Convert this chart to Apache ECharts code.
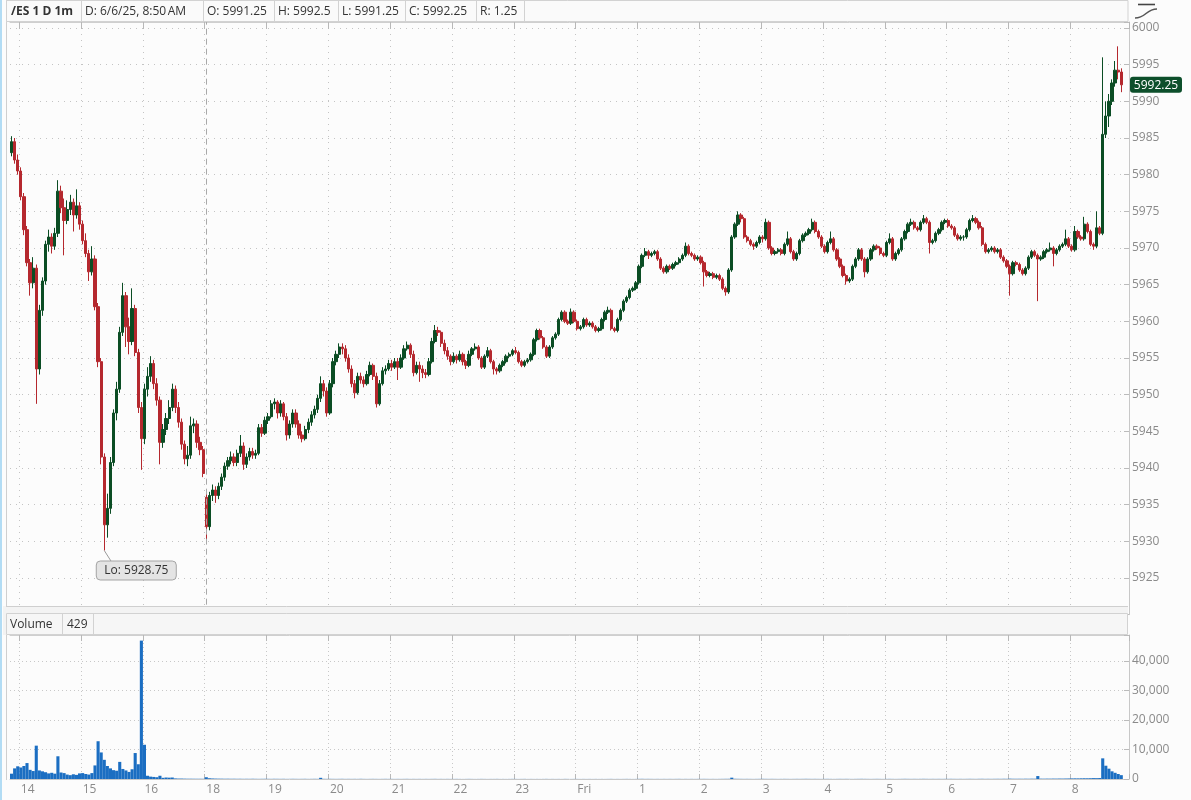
<!DOCTYPE html>
<html><head><meta charset="utf-8">
<script src="https://cdn.jsdelivr.net/npm/echarts@6/dist/echarts.min.js"></script>
<style>html,body{margin:0;padding:0;background:#fcfcfc}#c{width:1191px;height:800px}</style>
</head><body><div id="c"></div><script>
// ---- sessions (3-minute bars): pre-break and overnight session ----
const sessionA = ['13:51', '16:57'];
const sessionB = ['18:00', '08:48'];
const trailingSlots = ['08:51', '08:54'];

const headerCells = ['/ES 1 D 1m', 'D: 6/6/25, 8:50\u202FAM', 'O: 5991.25', 'H: 5992.5', 'L: 5991.25', 'C: 5992.25', 'R: 1.25'];
const volumeHeader = ['Volume', '429'];

const opens = [
5983,5984.5,5982,5980.5,5977,5972.5,5968,5965.25,5967.25,5953.5,
5961.5,5965.5,5970.5,5971.5,5970.25,5972,5977.75,5975.5,5973.75,5975.25,
5976.25,5974.5,5975.75,5973.25,5971,5969.25,5966.75,5968.5,5962,5954.5,
5941.5,5932.25,5934.5,5940.75,5947.5,5950.75,5958.5,5963.5,5959.25,5957.25,
5961.75,5955.75,5948.25,5944,5950.75,5952.5,5954.25,5951.5,5949.25,5943.5,
5945.25,5946.75,5948.25,5950.75,5948.25,5946.25,5943.25,5941.25,5941.75,5945.75,
5946,5943.5,5942.5,
5936,5932,5936.25,5937,5936.25,5937.5,5938.75,5940.25,5941,5941.5,
5940.75,5942,5943,5940.5,5941.5,5942.25,5941.75,5942,5945.5,5944.75,
5946.5,5947,5948.75,5949,5947.5,5948.75,5947,5944.5,5946,5947.5,
5946,5944.5,5944,5945.25,5946.25,5947.25,5948,5949.5,5951.5,5950.5,
5947.5,5951.5,5954.5,5955.5,5956.5,5956.25,5955,5953.5,5951.5,5950.25,
5952.5,5952,5951.5,5952.75,5954,5952.5,5948.75,5951.5,5953.25,5953.5,
5954.25,5953.75,5954.5,5953.75,5955,5956.25,5956.75,5955.5,5953,5954,
5953.5,5953,5952.75,5954.5,5957.25,5958.75,5958.5,5957,5956,5955.25,
5954.5,5955.25,5954.75,5955.5,5954.5,5954,5955.5,5956.25,5956.5,5955,
5953.75,5955.25,5956,5954.5,5953.5,5953.25,5954,5954.5,5955.25,5955.5,
5956,5955.75,5954.5,5954,5954.5,5954.75,5955.5,5957.5,5958.75,5957.75,
5956.5,5955.25,5956.5,5957.75,5958.25,5960.25,5961.25,5960,5959.75,5961.25,
5960,5959,5959.25,5960.25,5959.5,5959.75,5959.25,5958.75,5959,5960.25,
5961.25,5961.5,5959,5958.75,5960.25,5961.5,5962.75,5963.25,5964.25,5964.5,
5965.25,5967.5,5969,5969.5,5969,5969.25,5969.5,5968.5,5967.25,5966.75,
5967.5,5967.25,5967.75,5968,5968.5,5969,5970.25,5969.25,5969,5968.5,
5968.75,5968,5966.75,5966.25,5966.5,5966,5966.25,5965.75,5964.5,5964,
5967,5971.5,5973.25,5974.5,5974,5971.5,5971,5970.5,5970.25,5970.75,
5971.5,5971.25,5973.5,5970,5969.25,5969.5,5969.75,5969.25,5970.5,5971.25,
5969.5,5968.5,5969.25,5971,5971.75,5972,5972.5,5973.5,5972.25,5971.5,
5970.25,5969.5,5970.75,5971.25,5969.75,5968.5,5967.5,5966.25,5965.5,5965.75,
5967.5,5968.5,5969.75,5968.5,5966.75,5968.5,5969.75,5970.25,5970,5969.25,
5969,5970.75,5971.25,5968.5,5969.25,5969.75,5971.25,5972.25,5973.25,5973.5,
5972.75,5972.5,5973.5,5974,5973.5,5970.75,5971,5972,5972.5,5973.5,
5973.75,5973,5972.75,5971.75,5971.25,5971.5,5971.5,5972.5,5973.75,5974,
5973.5,5972.75,5970.5,5969.5,5969.75,5970,5969.5,5969.75,5968.75,5968.25,
5967.5,5966.5,5968,5967.75,5967,5966.5,5967.25,5968.75,5969.5,5969,
5968.5,5968.75,5969.5,5969.75,5970,5969.25,5969.75,5970.25,5970.5,5971.25,
5970.25,5969.75,5972.25,5971.5,5971.25,5973.25,5972.25,5970.5,5970.25,5972.75,
5972,5985.5,5988,5990,5992.5,5994.25,5994];

const highs = [
5985.25,5985,5982.75,5981,5977.5,5973,5968.5,5968.75,5967.75,5962.25,
5966,5971,5972.5,5972,5972.75,5979.25,5978.5,5976.75,5976.5,5977.25,
5976.75,5978,5976.25,5973.75,5972,5969.75,5970.25,5969,5962.5,5955,
5942,5936.5,5941.5,5948,5951.75,5959.25,5965.25,5964,5960.5,5964.5,
5962.25,5956.25,5949,5951.5,5953.75,5955.25,5954.75,5952.25,5949.75,5946,
5947.5,5949.25,5951.5,5951.25,5949,5946.75,5943.75,5943,5947,5946.75,
5946.5,5944.25,5943,
5936.5,5936.75,5937.75,5937.5,5938,5939.25,5940.75,5941.5,5942.25,5942,
5942.5,5944.5,5943.5,5942,5942.75,5942.75,5942.5,5946,5946,5947,
5947.5,5949.25,5949.5,5949.25,5949.25,5949,5947.5,5946.5,5948,5948,
5946.5,5945,5945.75,5946.75,5947.75,5948.5,5950,5952.5,5952,5951,
5952,5955,5956,5957,5957,5956.75,5955.5,5954,5952,5953,
5953,5952.5,5953.25,5954.5,5954.25,5953,5952,5953.75,5954,5954.75,
5954.75,5955,5955,5955.5,5956.75,5957.25,5957,5956,5954.5,5954.5,
5954,5953.5,5955,5957.75,5959.5,5959.25,5958.75,5957.5,5956.5,5955.5,
5955.75,5955.5,5956,5955.75,5954.75,5956,5956.5,5957,5956.75,5955.25,
5955.5,5956.5,5956.25,5954.75,5953.75,5954.25,5954.75,5955.5,5955.75,5956.25,
5956.5,5956,5954.75,5954.75,5955,5955.75,5957.75,5959,5959,5958,
5956.75,5956.75,5958,5958.5,5960.5,5961.5,5961.5,5960.25,5961.75,5961.5,
5960.25,5959.5,5960.5,5960.5,5960,5960,5959.5,5959.25,5960.5,5961.5,
5962,5961.75,5959.25,5960.5,5961.75,5963,5963.5,5964.5,5964.75,5965.5,
5967.75,5969.25,5970,5969.75,5969.5,5969.75,5969.75,5968.75,5967.5,5967.75,
5967.75,5968,5968.25,5968.75,5969.25,5970.75,5970.5,5969.5,5969.25,5969,
5969,5968.25,5967,5966.75,5966.75,5966.5,5966.5,5966,5964.75,5967.25,
5971.75,5973.5,5975,5974.75,5974.25,5971.75,5971.25,5970.75,5971,5971.75,
5971.75,5974,5973.75,5970.25,5969.75,5970,5970,5970.75,5972.25,5971.5,
5969.75,5969.5,5971.25,5972,5972.25,5972.75,5974,5973.75,5972.5,5971.75,
5970.5,5971,5972.25,5971.5,5970,5968.75,5967.75,5966.5,5966,5967.75,
5968.75,5970,5970,5968.75,5968.75,5970,5970.5,5970.5,5970.25,5969.5,
5971,5972,5971.5,5969.5,5970,5971.5,5972.5,5973.5,5974,5973.75,
5973,5973.75,5974.5,5974.25,5973.75,5971.25,5972.25,5972.75,5973.75,5974,
5974,5973.25,5973,5972,5971.75,5971.75,5972.75,5974,5974.5,5974.25,
5973.75,5973,5970.75,5970,5970.25,5970.25,5970,5970,5969,5968.5,
5967.75,5968.25,5968.25,5968,5967.25,5967.5,5969,5969.75,5969.75,5969.25,
5969,5969.75,5970,5970.75,5970.25,5970,5970.5,5970.75,5972.5,5971.5,
5970.5,5973,5972.5,5971.75,5974.25,5973.5,5972.5,5970.75,5975,5973,
5996,5990,5991,5993,5995.5,5997.5,5994.5];

const lows = [
5982.5,5981.5,5980,5976.5,5971.75,5967.5,5963.5,5964.5,5948.75,5952.75,
5960.75,5965,5969.5,5969.25,5969.75,5971.5,5974.75,5969,5973.25,5974.5,
5972.25,5974,5972.5,5970.5,5968.75,5965.5,5966.25,5961.5,5953.75,5940.5,
5928.75,5930.5,5933.75,5940.25,5946.5,5950.25,5958,5956.5,5955.5,5956.75,
5955.25,5947.5,5939.75,5943.25,5949.75,5951.75,5950.75,5948.5,5940.5,5942.75,
5944.5,5946,5947.75,5947.5,5945.5,5942.5,5940.5,5940.25,5941.25,5944.75,
5942.75,5941.75,5938.75,
5930,5931.5,5935.5,5935.25,5935.75,5937,5938.25,5939.75,5940.5,5940.25,
5940.25,5941.5,5939.75,5940,5941,5941.25,5941.25,5941.75,5944.25,5944.5,
5946,5946.75,5948,5946.75,5947,5946.5,5943.75,5944,5945.5,5945.5,
5944,5943.5,5943.75,5944.75,5945.75,5946.75,5947.5,5949,5949.75,5947,
5947.25,5951,5954,5955,5955.5,5954.5,5953,5951,5949.5,5950,
5951.5,5951,5951.25,5952.5,5952,5948.25,5948.5,5951.25,5952.75,5953.25,
5953.25,5953.5,5952,5953.5,5954.75,5956,5955,5952.5,5952.75,5951.75,
5952.25,5952.25,5952.5,5954.25,5957,5958,5956.5,5955.5,5954.75,5954,
5954.25,5954.25,5954.5,5954,5953.5,5953.75,5955.25,5956,5954.75,5953.5,
5953.5,5955,5954.25,5952.75,5952.75,5953,5953.75,5954.25,5955,5955.25,
5955.5,5954.25,5953.75,5953.75,5954.25,5954.5,5955.25,5957.25,5957.5,5956.25,
5955,5955,5956.25,5957.5,5958,5960,5959.75,5959.5,5959.5,5959.75,
5958.75,5958.75,5959,5959.25,5959.25,5959,5958.5,5958.5,5958.75,5960,
5961,5958.75,5958.5,5958.5,5960,5961.25,5962.5,5963,5964,5964.25,
5965,5967.25,5968.75,5968.5,5968.75,5969,5968.25,5967,5966.5,5966.5,
5967,5967,5967.5,5967.75,5968.25,5968.75,5969,5968.75,5968.25,5968.25,
5967.75,5964.75,5966,5966,5965.75,5965.75,5965.5,5964.25,5963.5,5963.75,
5966.75,5971.25,5973,5973.5,5971.25,5970.75,5970.25,5969.75,5970,5970.5,
5970.75,5971,5969.75,5969,5969,5969.25,5969,5969,5970.25,5969.25,
5968.25,5968.25,5969,5970.75,5971.5,5971.75,5972.25,5972,5971.25,5970,
5969.25,5969.25,5970.5,5969.5,5968.25,5967.25,5966,5965,5965.25,5965.5,
5967.25,5968.25,5968.25,5966,5966.5,5968.25,5969.5,5969.75,5969,5968.75,
5968.75,5970.5,5968.25,5968.25,5969,5969.5,5971,5972,5973,5972.5,
5972.25,5972.25,5973.25,5973.25,5969.25,5970.5,5970.75,5971.75,5972.25,5973.25,
5972.75,5972.5,5971.5,5971,5971,5971,5971.25,5972.25,5973.5,5973.25,
5972.5,5970.25,5969.25,5969.25,5969.5,5969.25,5969.25,5968.5,5968,5967.25,
5963.5,5966.25,5967.5,5966.75,5966.25,5966.25,5967,5968.5,5968.75,5962.75,
5968.25,5968.5,5969.25,5969.5,5967.5,5969,5969.5,5970,5970.25,5970,
5969.5,5969.5,5971.25,5971,5971,5972,5970.25,5969.75,5970,5971.75,
5971.75,5985,5986.5,5989.5,5992,5993,5991.25];

const closes = [
5984.5,5982,5980.5,5977,5972.5,5968,5965.25,5967.25,5953.5,5961.5,
5965.5,5970.5,5971.5,5970.25,5972,5977.75,5975.5,5973.75,5975.25,5976.25,
5974.5,5975.75,5973.25,5971,5969.25,5966.75,5968.5,5962,5954.5,5941.5,
5932.25,5934.5,5940.75,5947.5,5950.75,5958.5,5963.5,5959.25,5957.25,5961.75,
5955.75,5948.25,5944,5950.75,5952.5,5954.25,5951.5,5949.25,5943.5,5945.25,
5946.75,5948.25,5950.75,5948.25,5946.25,5943.25,5941.25,5941.75,5945.75,5946,
5943.5,5942.5,5939.25,
5932,5936.25,5937,5936.25,5937.5,5938.75,5940.25,5941,5941.5,5940.75,
5942,5943,5940.5,5941.5,5942.25,5941.75,5942,5945.5,5944.75,5946.5,
5947,5948.75,5949,5947.5,5948.75,5947,5944.5,5946,5947.5,5946,
5944.5,5944,5945.25,5946.25,5947.25,5948,5949.5,5951.5,5950.5,5947.5,
5951.5,5954.5,5955.5,5956.5,5956.25,5955,5953.5,5951.5,5950.25,5952.5,
5952,5951.5,5952.75,5954,5952.5,5948.75,5951.5,5953.25,5953.5,5954.25,
5953.75,5954.5,5953.75,5955,5956.25,5956.75,5955.5,5953,5954,5953.5,
5953,5952.75,5954.5,5957.25,5958.75,5958.5,5957,5956,5955.25,5954.5,
5955.25,5954.75,5955.5,5954.5,5954,5955.5,5956.25,5956.5,5955,5953.75,
5955.25,5956,5954.5,5953.5,5953.25,5954,5954.5,5955.25,5955.5,5956,
5955.75,5954.5,5954,5954.5,5954.75,5955.5,5957.5,5958.75,5957.75,5956.5,
5955.25,5956.5,5957.75,5958.25,5960.25,5961.25,5960,5959.75,5961.25,5960,
5959,5959.25,5960.25,5959.5,5959.75,5959.25,5958.75,5959,5960.25,5961.25,
5961.5,5959,5958.75,5960.25,5961.5,5962.75,5963.25,5964.25,5964.5,5965.25,
5967.5,5969,5969.5,5969,5969.25,5969.5,5968.5,5967.25,5966.75,5967.5,
5967.25,5967.75,5968,5968.5,5969,5970.25,5969.25,5969,5968.5,5968.75,
5968,5966.75,5966.25,5966.5,5966,5966.25,5965.75,5964.5,5964,5967,
5971.5,5973.25,5974.5,5974,5971.5,5971,5970.5,5970.25,5970.75,5971.5,
5971.25,5973.5,5970,5969.25,5969.5,5969.75,5969.25,5970.5,5971.25,5969.5,
5968.5,5969.25,5971,5971.75,5972,5972.5,5973.5,5972.25,5971.5,5970.25,
5969.5,5970.75,5971.25,5969.75,5968.5,5967.5,5966.25,5965.5,5965.75,5967.5,
5968.5,5969.75,5968.5,5966.75,5968.5,5969.75,5970.25,5970,5969.25,5969,
5970.75,5971.25,5968.5,5969.25,5969.75,5971.25,5972.25,5973.25,5973.5,5972.75,
5972.5,5973.5,5974,5973.5,5970.75,5971,5972,5972.5,5973.5,5973.75,
5973,5972.75,5971.75,5971.25,5971.5,5971.5,5972.5,5973.75,5974,5973.5,
5972.75,5970.5,5969.5,5969.75,5970,5969.5,5969.75,5968.75,5968.25,5967.5,
5966.5,5968,5967.75,5967,5966.5,5967.25,5968.75,5969.5,5969,5968.5,
5968.75,5969.5,5969.75,5970,5969.25,5969.75,5970.25,5970.5,5971.25,5970.25,
5969.75,5972.25,5971.5,5971.25,5973.25,5972.25,5970.5,5970.25,5972.75,5972,
5985.5,5988,5990,5992.5,5994.25,5994,5992.25];

const volumes = [
1800,3600,4300,3900,4400,5400,3100,2700,11300,2900,
2600,2300,1900,2100,1800,7700,2200,2000,1500,1300,
1600,1400,1900,2000,1700,1500,2000,4600,12800,9000,
6500,4400,3600,3000,2800,5800,3400,2900,2400,3300,
8800,5000,46900,11600,1100,800,700,600,1100,400,
500,450,500,200,150,150,120,100,100,90,
80,80,70,
600,250,180,140,120,110,90,100,80,90,70,80,60,70,60,80,60,50,60,70,
60,50,70,60,50,60,40,50,60,50,40,50,60,40,50,60,50,400,60,50,
60,50,40,50,60,40,50,40,50,40,60,40,30,40,50,40,30,40,50,40,
40,30,40,30,40,50,30,40,30,40,30,40,30,40,50,30,40,30,40,30,
30,40,30,20,30,40,30,20,30,40,30,20,30,30,40,20,30,20,30,40,
30,20,30,40,20,30,20,30,20,30,40,20,30,20,30,20,40,30,20,30,
30,20,30,20,30,20,30,20,30,20,30,40,20,30,20,30,40,30,20,30,
50,60,40,50,40,30,40,30,40,30,40,30,40,50,30,40,30,40,30,40,
40,50,40,30,40,30,40,50,60,70,450,80,60,50,40,50,40,30,40,50,
60,50,40,50,40,30,40,50,40,30,40,50,40,50,60,50,40,50,40,30,
40,50,40,30,40,50,40,50,40,30,40,50,60,50,40,30,40,50,40,30,
40,50,40,30,40,50,60,50,40,50,40,50,60,50,40,50,40,50,40,50,
50,60,50,40,50,40,50,60,50,40,60,70,50,60,50,60,70,60,80,70,
120,90,80,90,80,100,90,110,100,1000,120,110,130,120,140,130,150,140,160,180,
200,220,210,230,250,240,260,300,280,320,7000,4500,3500,2600,2100,1700,1300];

// ---- category labels (bar start times) ----
function sessionTimes(range) {
  const toMin = s => parseInt(s.slice(0, 2), 10) * 60 + parseInt(s.slice(3), 10);
  let t = toMin(range[0]); const end = toMin(range[1]) + (toMin(range[1]) < t ? 1440 : 0);
  const out = [];
  for (; t <= end; t += 3) {
    const m = t % 1440;
    out.push(String(Math.floor(m / 60)).padStart(2, '0') + ':' + String(m % 60).padStart(2, '0'));
  }
  return out;
}
const categories = sessionTimes(sessionA).concat(sessionTimes(sessionB), trailingSlots);
const ohlc = opens.map((o, i) => [o, closes[i], lows[i], highs[i]]);

const FONT = '"Open Sans", "Noto Sans", sans-serif';
const isHour = (idx, val) => typeof val === 'string' && val.slice(3) === '00';
const GRID_L = 10, GRID_R = 62;
const MAIN_TOP = 22, PX_PER_PT = 7.3333, MAIN_H = 592.67;
const VOL_TOP = 635, VOL_H = 144;

const chart = echarts.init(document.getElementById('c'));
chart.setOption({
  animation: false,
  backgroundColor: '#fcfcfc',
  grid: [
    { left: GRID_L, right: GRID_R, top: MAIN_TOP, height: MAIN_H },
    { left: GRID_L, right: GRID_R, top: VOL_TOP, height: VOL_H }
  ],
  xAxis: [
    { type: 'category', gridIndex: 0, data: categories, position: 'top', boundaryGap: true,
      axisLine: { show: true, lineStyle: { color: '#cfcfcf' } },
      axisTick: { show: true, inside: true, length: 7, interval: isHour, lineStyle: { color: '#b8b8b8' } },
      axisLabel: { show: false },
      splitLine: { show: true, interval: isHour, lineStyle: { color: '#c4c4c4', type: [1, 5] } } },
    { type: 'category', gridIndex: 1, data: categories, position: 'bottom', boundaryGap: true,
      axisLine: { show: true, lineStyle: { color: '#c8c8c8' } },
      axisTick: { show: true, inside: true, length: 5, interval: isHour, lineStyle: { color: '#b8b8b8' } },
      axisLabel: { show: true, interval: isHour, align: 'left', margin: 5, color: '#8a8a8a', fontSize: 12, fontFamily: FONT,
        formatter: v => v === '00:00' ? 'Fri' : String(parseInt(v, 10)) },
      splitLine: { show: true, interval: isHour, lineStyle: { color: '#c8c8c8', type: [1, 3] } } },
    { type: 'category', gridIndex: 1, data: categories, position: 'top', boundaryGap: true,
      axisLine: { show: true, lineStyle: { color: '#cfcfcf' } },
      axisTick: { show: true, inside: true, length: 6, interval: isHour, lineStyle: { color: '#b8b8b8' } },
      axisLabel: { show: false }, splitLine: { show: false } }
  ],
  yAxis: [
    { type: 'value', gridIndex: 0, position: 'right', min: 5920, max: 5920 + MAIN_H / PX_PER_PT, interval: 5,
      axisLine: { show: true, lineStyle: { color: '#c8c8c8' } },
      axisTick: { show: true, inside: true, length: 5, lineStyle: { color: '#bbbbbb' } },
      axisLabel: { color: '#8a8a8a', fontSize: 12, fontFamily: FONT, margin: 3,
        formatter: v => (Math.abs(v % 5) < 1e-6 && v > 5920.5 && v < 6000.5) ? String(v) : '' },
      splitLine: { show: true, lineStyle: { color: '#c4c4c4', type: [1, 5] } } },
    { type: 'value', gridIndex: 1, position: 'right', min: 0, max: 48800, interval: 10000,
      axisLine: { show: true, lineStyle: { color: '#c8c8c8' } },
      axisTick: { show: true, inside: true, length: 5, lineStyle: { color: '#bbbbbb' } },
      axisLabel: { color: '#8a8a8a', fontSize: 12, fontFamily: FONT, margin: 3,
        formatter: v => (v % 10000 === 0) ? v.toLocaleString('en-US') : '' },
      splitLine: { show: true, lineStyle: { color: '#c8c8c8', type: [1, 3] } } }
  ],
  series: [
    { type: 'candlestick', xAxisIndex: 0, yAxisIndex: 0, data: ohlc, barWidth: 2.8,
      itemStyle: { color: '#0b4d24', color0: '#b5282e', borderColor: '#0b4d24', borderColor0: '#b5282e', borderWidth: 1 },
      markLine: { silent: true, symbol: ['none', 'none'], label: { show: false },
        lineStyle: { color: '#a8a8a8', type: [6, 4], width: 1 }, data: [{ xAxis: '18:00' }] } },
    { type: 'bar', xAxisIndex: 1, yAxisIndex: 1, data: volumes, barWidth: '100%',
      itemStyle: { color: '#1b6ec2' } }
  ]
});

// ---- decorations / annotations ----
const lowIdx = lows.indexOf(Math.min(...lows));
const lowPx = chart.convertToPixel({ xAxisIndex: 0, yAxisIndex: 0 }, [lowIdx, lows[lowIdx]]);
const lastIdx = closes.length - 1;
const lastPx = chart.convertToPixel({ xAxisIndex: 0, yAxisIndex: 0 }, [lastIdx, closes[lastIdx]]);

const cellX = [7, 81, 203, 274, 338, 405, 476, 524];
const g = [];
// left window edge
g.push({ type: 'rect', shape: { x: 0, y: 0, width: 2, height: 800 }, style: { fill: '#b2dcf4' }, z: 100 });
g.push({ type: 'line', shape: { x1: 6.5, y1: 0, x2: 6.5, y2: 780 }, style: { stroke: '#cfcfcf', lineWidth: 1 }, z: 100 });
// header band
g.push({ type: 'rect', shape: { x: 6.5, y: 0.5, width: 1121.5, height: 21 }, style: { fill: '#fafafa', stroke: '#d2d2d2', lineWidth: 1 }, z: 100 });
for (let k = 1; k < cellX.length; k++) {
  g.push({ type: 'line', shape: { x1: cellX[k] + 0.5, y1: 1, x2: cellX[k] + 0.5, y2: 21 }, style: { stroke: '#d2d2d2', lineWidth: 1 }, z: 101 });
}
headerCells.forEach((t, k) => {
  g.push({ type: 'text', x: cellX[k] + 4, y: 11.5, z: 102,
    style: { text: t, fill: '#333', font: (k === 0 ? 'bold ' : '') + '12px ' + FONT, textVerticalAlign: 'middle', verticalAlign: 'middle' } });
});
// top-right icon
g.push({ type: 'line', shape: { x1: 1138, y1: 4.5, x2: 1155, y2: 4.5 }, style: { stroke: '#444', lineWidth: 1.6 }, z: 102 });
g.push({ type: 'bezierCurve', shape: { x1: 1135, y1: 18, x2: 1157, y2: 9, cpx1: 1146, cpy1: 18, cpx2: 1146, cpy2: 9 },
  style: { stroke: '#555', lineWidth: 1.6, fill: null }, z: 102 });
// separator + volume header
g.push({ type: 'rect', shape: { x: 3, y: 606, width: 1125, height: 29 }, style: { fill: '#f3f3f3' }, z: 100 });
g.push({ type: 'line', shape: { x1: 6, y1: 606.5, x2: 1128, y2: 606.5 }, style: { stroke: '#cfcfcf', lineWidth: 1 }, z: 101 });
g.push({ type: 'rect', shape: { x: 6.5, y: 613.5, width: 1121, height: 21 }, style: { fill: '#f6f6f6', stroke: '#d2d2d2', lineWidth: 1 }, z: 101 });
g.push({ type: 'line', shape: { x1: 62.5, y1: 614, x2: 62.5, y2: 634 }, style: { stroke: '#d2d2d2', lineWidth: 1 }, z: 102 });
g.push({ type: 'line', shape: { x1: 93.5, y1: 614, x2: 93.5, y2: 634 }, style: { stroke: '#d2d2d2', lineWidth: 1 }, z: 102 });
g.push({ type: 'text', x: 10, y: 624.5, z: 103, style: { text: volumeHeader[0], fill: '#333', font: '12px ' + FONT, textVerticalAlign: 'middle', verticalAlign: 'middle' } });
g.push({ type: 'text', x: 67, y: 624.5, z: 103, style: { text: volumeHeader[1], fill: '#333', font: '12px ' + FONT, textVerticalAlign: 'middle', verticalAlign: 'middle' } });
// Lo annotation
g.push({ type: 'line', shape: { x1: lowPx[0], y1: lowPx[1], x2: lowPx[0] + 7, y2: lowPx[1] + 11 }, style: { stroke: '#9a9a9a', lineWidth: 1 }, z: 103 });
g.push({ type: 'rect', shape: { x: lowPx[0] - 8, y: lowPx[1] + 10.5, width: 80, height: 19, r: 4 }, style: { fill: '#e4e4e4', stroke: '#a4a4a4', lineWidth: 1 }, z: 103 });
g.push({ type: 'text', x: lowPx[0], y: lowPx[1] + 20, z: 104,
  style: { text: 'Lo: ' + lows[lowIdx].toFixed(2), fill: '#333', font: '12px ' + FONT, textVerticalAlign: 'middle', verticalAlign: 'middle' } });
// last price tag
g.push({ type: 'rect', shape: { x: 1130, y: lastPx[1] - 8, width: 52, height: 16, r: 3 }, style: { fill: '#0d4f2b' }, z: 103 });
g.push({ type: 'text', x: 1156, y: lastPx[1] + 0.5, z: 104,
  style: { text: closes[lastIdx].toFixed(2), fill: '#fff', font: '12px ' + FONT, textAlign: 'center', align: 'center', textVerticalAlign: 'middle', verticalAlign: 'middle' } });

chart.setOption({ graphic: { elements: g } });
</script></body></html>
